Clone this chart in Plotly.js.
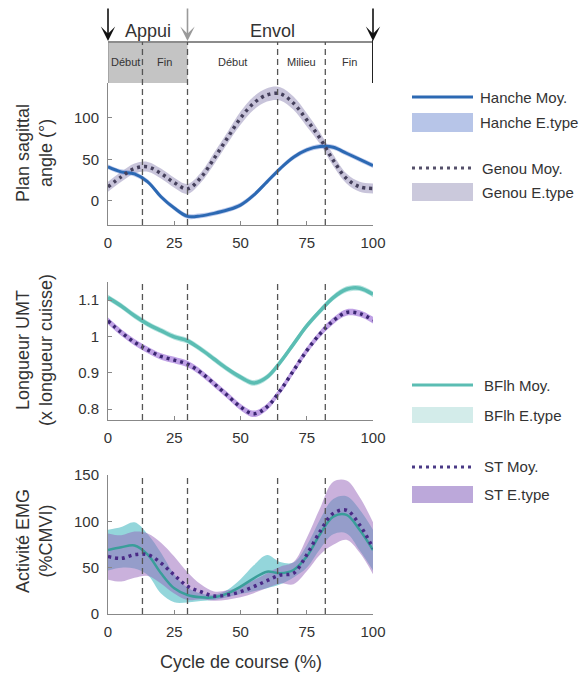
<!DOCTYPE html>
<html><head><meta charset="utf-8">
<script src="https://cdn.plot.ly/plotly-3.0.1.min.js"></script>
<style>html,body{margin:0;padding:0;background:#fff}#chart{width:584px;height:677px}</style>
</head><body><div id="chart"></div>
<script>
// ---- data ----
const cycle = [0,5,10,15,20,25,30,35,40,45,50,55,60,65,70,75,80,85,90,95,100];
const hipMean  = [41,35,32.5,23,5,-8.6,-18.6,-18,-15,-11,-5,7,23,39,52.6,61.4,65.4,64.7,57.4,50,42.6];
const hipSd    = [3,3,3,3,3,3,3,3,3,3,3,3,3,3,3,3,3,3,3,3,3];
const kneeMean = [17,29,39,41,33,22,14.5,28,51,75.5,99.6,117.7,127.7,129,117.7,97.6,75.5,49,27,17,15];
const kneeSd   = [6,6,6,6,6,6,6,6,7,7,8,8,8,8,8,8,7,7,6,6,6];
const bflhLen  = [1.107,1.084,1.057,1.034,1.016,0.999,0.988,0.965,0.938,0.911,0.888,0.872,0.888,0.929,0.979,1.029,1.07,1.107,1.13,1.133,1.116];
const bflhLenSd= [0.008,0.008,0.008,0.008,0.008,0.008,0.008,0.008,0.008,0.008,0.008,0.008,0.008,0.008,0.008,0.008,0.008,0.008,0.008,0.008,0.008];
const stLen    = [1.043,1.011,0.984,0.963,0.945,0.935,0.924,0.901,0.87,0.838,0.806,0.787,0.806,0.851,0.906,0.961,1.007,1.043,1.066,1.063,1.045];
const stLenSd  = [0.009,0.009,0.009,0.009,0.009,0.009,0.009,0.009,0.009,0.009,0.009,0.009,0.009,0.009,0.009,0.009,0.009,0.009,0.009,0.009,0.009];
const bflhEmg  = [69,72,74,64,44,27.7,20.5,18,18,22,29.5,38.5,45.7,44,47.5,62,86,105,107,90.6,69];
const bflhEmgSd= [22,22,25,22,22,15,8,4,3,4,8,14,18,12,8,12,16,19,20,22,22];
const stEmg    = [62,60,64,64,55,42,30,24,19.4,20.5,24,29.5,36,42,44,64,89,108.6,112,96,71];
const stEmgSd  = [25,25,25,23,22,20,15,8,5,5,6,7,8,9,12,18,25,34,32,30,28];
const phaseBounds = [13,30,64,82];
const phaseNames = ['Début','Fin','Début','Milieu','Fin'];
const phaseCenters = [6.5,21.5,47,73,91];
const mainPhases = ['Appui','Envol'];
const mainCenters = [15,62];
const xTicks = [0,25,50,75,100];
const legendNames = ['Hanche Moy.','Hanche E.type','Genou Moy.','Genou E.type','BFlh Moy.','BFlh E.type','ST Moy.','ST E.type'];

// ---- helpers ----
const W=584, H=677;
const PX = v => v/W, PY = v => 1 - v/H;
const FONT = 'Arial, "Liberation Sans", Helvetica, sans-serif';
const TXT = '#333';

function band(mean, sd, xa, ya, color, name){
  const lo = mean.map((m,i)=>m-sd[i]);
  const hi = mean.map((m,i)=>m+sd[i]);
  return [
    {x:cycle, y:lo, xaxis:xa, yaxis:ya, mode:'lines', line:{width:0, shape:'spline'}, hoverinfo:'skip', showlegend:false},
    {x:cycle, y:hi, xaxis:xa, yaxis:ya, mode:'lines', line:{width:0, shape:'spline'}, fill:'tonexty', fillcolor:color, name:name, showlegend:false}
  ];
}
function meanLine(mean, xa, ya, color, width, dash, name){
  return {x:cycle, y:mean, xaxis:xa, yaxis:ya, mode:'lines', name:name, showlegend:false,
          line:{color:color, width:width, dash:dash||'solid', shape:'spline'}};
}

const data = [
  ...band(kneeMean, kneeSd, 'x', 'y', 'rgba(190,186,212,0.85)', 'Genou E.type'),
  ...band(hipMean, hipSd, 'x', 'y', 'rgba(110,140,215,0.45)', 'Hanche E.type'),
  meanLine(hipMean, 'x', 'y', '#2c69b3', 3, 'solid', 'Hanche Moy.'),
  meanLine(kneeMean, 'x', 'y', '#45405c', 3.5, '3px,4px', 'Genou Moy.'),

  ...band(bflhLen, bflhLenSd, 'x2', 'y2', 'rgba(150,215,210,0.7)', 'BFlh E.type'),
  ...band(stLen, stLenSd, 'x2', 'y2', 'rgba(170,130,220,0.75)', 'ST E.type'),
  meanLine(bflhLen, 'x2', 'y2', '#5bbdb3', 3.5, 'solid', 'BFlh Moy.'),
  meanLine(stLen, 'x2', 'y2', '#3b2672', 3.5, '3px,4px', 'ST Moy.'),

  ...band(bflhEmg, bflhEmgSd, 'x3', 'y3', 'rgba(60,180,190,0.55)', 'BFlh E.type'),
  ...band(stEmg, stEmgSd, 'x3', 'y3', 'rgba(150,100,185,0.5)', 'ST E.type'),
  meanLine(bflhEmg, 'x3', 'y3', '#3a9e9a', 2.5, 'solid', 'BFlh Moy.'),
  meanLine(stEmg, 'x3', 'y3', '#4a2a86', 3.5, '3px,4px', 'ST Moy.')
];

const xdom = [PX(108), PX(373)];
function xax(anchor){
  return {domain:xdom, anchor:anchor, range:[0,100], tickvals:xTicks, showline:true, linecolor:'#888', linewidth:1,
    ticks:'inside', ticklen:4, tickcolor:'#888', showgrid:false, zeroline:false,
    tickfont:{family:FONT, size:15, color:TXT}, ticklabelstandoff:4, fixedrange:true};
}
function yax(anchor, dom, range, tv){
  return {domain:dom, anchor:anchor, range:range, tickvals:tv, showline:true, linecolor:'#888', linewidth:1,
    ticks:'inside', ticklen:4, tickcolor:'#888', showgrid:false, zeroline:false,
    tickfont:{family:FONT, size:15, color:TXT}, ticklabelstandoff:5, fixedrange:true};
}

const panels = [{ya:'y', top:42, bot:225},{ya:'y2', top:282, bot:420},{ya:'y3', top:475, bot:614}];
const shapes = [];
// header
shapes.push({type:'rect', xref:'x', yref:'paper', x0:0, x1:30, y0:PY(83), y1:PY(42), fillcolor:'#c4c4c4', line:{width:0}, layer:'below'});
shapes.push({type:'line', xref:'x', yref:'paper', x0:0, x1:100, y0:PY(42), y1:PY(42), line:{color:'#8c8c8c', width:2}});
shapes.push({type:'line', xref:'x', yref:'paper', x0:0, x1:0, y0:PY(83), y1:PY(42), line:{color:'#888', width:1}});
shapes.push({type:'line', xref:'x', yref:'paper', x0:100, x1:100, y0:PY(83), y1:PY(40), line:{color:'#222', width:2}});
panels.forEach(p=>{
  phaseBounds.forEach(b=>{
    shapes.push({type:'line', xref:'x', yref:'paper', x0:b, x1:b, y0:PY(p.bot), y1:PY(p.top),
      line:{color:'#555', width:1.3, dash:'6px,4px'}});
  });
});

// legend (manual swatches)
const legItems = [
  {k:'line', c:'#2c69b3', y:97, tx:478, w:3},
  {k:'rect', c:'#b7c5e8', y0:113, y1:132, tx:478},
  {k:'dot',  c:'#55506a', y:168, tx:480, w:3},
  {k:'rect', c:'#cbc9dc', y0:183, y1:201, tx:480},
  {k:'line', c:'#5bbdb3', y:385, tx:482, w:3},
  {k:'rect', c:'#d3ecea', y0:407, y1:423, tx:482},
  {k:'dot',  c:'#4a3a86', y:467, tx:482, w:3},
  {k:'rect', c:'#bca8da', y0:486, y1:503, tx:482}
];
const annotations = [];
legItems.forEach((it,i)=>{
  let ty;
  if(it.k==='rect'){
    shapes.push({type:'rect', xref:'paper', yref:'paper', x0:PX(412), x1:PX(473), y0:PY(it.y1), y1:PY(it.y0), fillcolor:it.c, line:{width:0}});
    ty = (it.y0+it.y1)/2;
  } else {
    shapes.push({type:'line', xref:'paper', yref:'paper', x0:PX(412), x1:PX(473), y0:PY(it.y), y1:PY(it.y),
      line:{color:it.c, width:it.w, dash: it.k==='dot' ? '3px,4px' : 'solid'}});
    ty = it.y;
  }
  annotations.push({xref:'paper', yref:'paper', x:PX(it.tx), y:PY(ty), xanchor:'left', yanchor:'middle', showarrow:false,
    text:legendNames[i], font:{family:FONT, size:15, color:TXT}});
});

// header texts
mainPhases.forEach((t,i)=>annotations.push({xref:'x', yref:'paper', x:mainCenters[i], y:PY(31), xanchor:'center', yanchor:'middle',
  showarrow:false, text:t, font:{family:FONT, size:18, color:TXT}}));
phaseNames.forEach((t,i)=>annotations.push({xref:'x', yref:'paper', x:phaseCenters[i], y:PY(62), xanchor:'center', yanchor:'middle',
  showarrow:false, text:t, font:{family:FONT, size:11, color:TXT}}));
// arrows
[[0,'#111'],[30,'#9a9a9a'],[100,'#111']].forEach(a=>annotations.push({xref:'x', yref:'paper', x:a[0], y:PY(41), ax:0, ay:-34,
  showarrow:true, arrowhead:3, arrowsize:1.5, arrowwidth:1.6, arrowcolor:a[1], text:''}));
// axis titles
const yTitles = [['Plan sagittal<br>angle (°)',153],['Longueur UMT<br>(x longueur cuisse)',350],['Activité EMG<br>(%CMVI)',541]];
yTitles.forEach(t=>annotations.push({xref:'paper', yref:'paper', x:PX(34), y:PY(t[1]), xanchor:'center', yanchor:'middle',
  textangle:-90, showarrow:false, text:t[0], font:{family:FONT, size:18, color:TXT}}));
annotations.push({xref:'paper', yref:'paper', x:PX(241), y:PY(662), xanchor:'center', yanchor:'middle', showarrow:false,
  text:'Cycle de course (%)', font:{family:FONT, size:18, color:TXT}});

const layout = {
  width:W, height:H, margin:{l:0,r:0,t:0,b:0}, paper_bgcolor:'#fff', plot_bgcolor:'rgba(0,0,0,0)',
  showlegend:false, font:{family:FONT, color:TXT},
  xaxis:xax('y'), xaxis2:xax('y2'), xaxis3:xax('y3'),
  yaxis:yax('x', [PY(225),PY(83)], [-29,142], [0,50,100]),
  yaxis2:yax('x2', [PY(420),PY(282)], [0.77,1.15], [0.8,0.9,1,1.1]),
  yaxis3:yax('x3', [PY(614),PY(475)], [0,150], [0,50,100,150]),
  shapes:shapes, annotations:annotations
};
Plotly.newPlot('chart', data, layout, {displayModeBar:false, staticPlot:true});
</script></body></html>
